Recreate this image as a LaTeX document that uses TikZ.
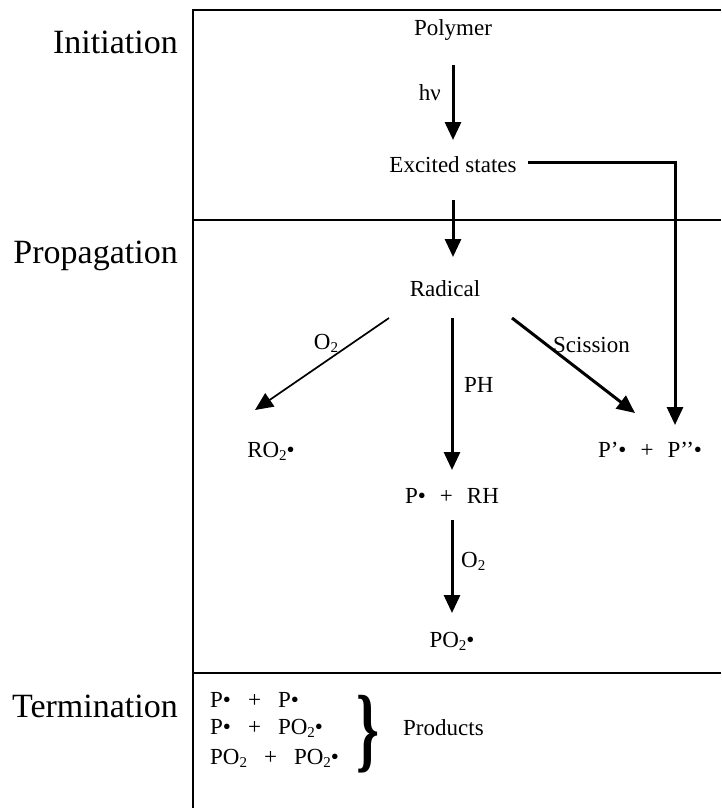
\documentclass[tikz,border=0pt]{standalone}
\usepackage{fontspec}
\setmainfont{Liberation Serif}
\usetikzlibrary{arrows.meta}
\newcommand\subtwo{\raisebox{-0.35ex}{\fontsize{15}{15}\selectfont 2}}
\newcommand\gap{\hspace{14pt}}
\newcommand\tgap{\hspace{17pt}}
\begin{document}
\begin{tikzpicture}[x=1pt,y=-1pt,
  txt/.style={font=\fontsize{23}{27}\selectfont, inner sep=0pt, anchor=base},
  lbl/.style={txt, anchor=base west},
  stage/.style={font=\fontsize{34}{40}\selectfont, inner sep=0pt, anchor=base east},
  frame/.style={line width=2.4pt},
  arr/.style={line width=3pt, -{Triangle[width=16pt,length=18pt]}},
  thinarr/.style={line width=1.7pt, -{Triangle[width=16pt,length=18pt]}}]
\useasboundingbox (0,0) rectangle (721,808);
% frame
\draw[frame] (721,10) -- (193,10) -- (193,808);
\draw[frame] (193,220) -- (721,220);
\draw[frame] (193,673) -- (721,673);
% stage labels
\node[stage] (ini) at (178,53) {Initiation};
\node[stage] (pro) at (178,263) {Propagation};
\node[stage] (ter) at (178,717) {Termination};
% species
\node[txt] (poly) at (453,36) {Polymer};
\node[txt] (exc) at (453,172) {Excited states};
\node[txt] (rad) at (445,296) {Radical};
\node[txt] (ro) at (271,457) {RO\subtwo•};
\node[txt] (pp) at (650,457) {P’•\gap+\gap P’’•};
\node[txt] (prh) at (452,503) {P•\gap+\gap RH};
\node[txt] (po) at (452,647) {PO\subtwo•};
% arrow labels
\node[txt, anchor=base east] (hv) at (441,100) {hν};
\node[txt] (o2a) at (326,349) {O\subtwo};
\node[lbl] (ph) at (464,392) {PH};
\node[lbl] (sc) at (553,352) {Scission};
\node[lbl] (o2b) at (461,567) {O\subtwo};
% arrows
\draw[arr, shorten <=29pt, shorten >=32pt] (poly.base) -- (exc.base);
\draw[arr, shorten <=28pt, shorten >=39pt] (exc.base) -- (exc.base |- rad.base);
\draw[arr, shorten <=22pt, shorten >=33pt] (prh.base |- rad.base) -- (prh.base);
\draw[arr, shorten <=17pt, shorten >=34pt] (prh.base) -- (po.base);
\draw[thinarr] ([shift={(-56,22)}]rad.base) -- ([shift={(-16,-47)}]ro.base);
\draw[arr] ([shift={(67,22)}]rad.base) -- ([shift={(-15,-44)}]pp.base);
\draw[arr] ([shift={(75,-10)}]exc.base) -| ([shift={(25,-32)}]pp.base);
% termination
\node[lbl] (t1) at (210,707) {P•\tgap+\tgap P•};
\node[lbl] (t2) at (210,734) {P•\tgap+\tgap PO\subtwo•};
\node[lbl] (t3) at (210,764) {PO\subtwo\tgap+\tgap PO\subtwo•};
\node[inner sep=0pt] (brace) at (368,734) {\scalebox{0.62}[1]{\fontsize{94}{94}\selectfont\bfseries\}}};
\node[lbl] (prod) at (403,735) {Products};
\end{tikzpicture}
\end{document}
